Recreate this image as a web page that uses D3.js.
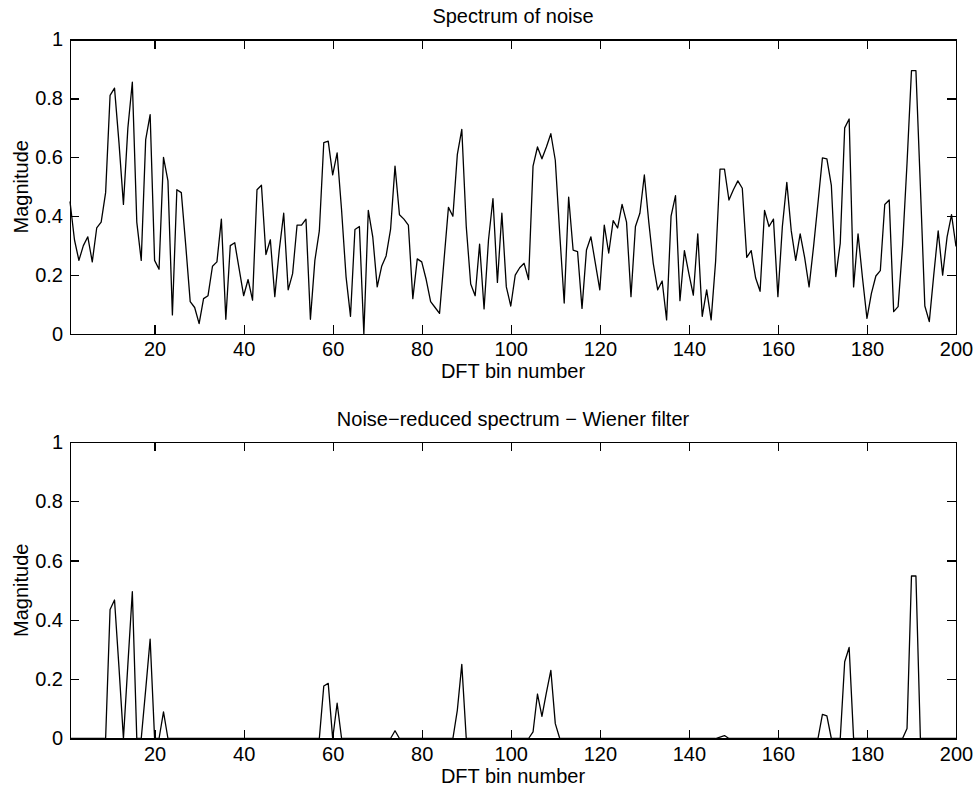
<!DOCTYPE html>
<html lang="en">

<head>
    <meta charset="UTF-8">
    <title>Spectrum of noise</title>
    <style>
        body {
            margin: 0;
            background: #fff;
        }

        svg text {
            font-family: 'Liberation Sans', Arial, sans-serif;
            font-size: 20px;
            fill: #000;
        }

        .axis path,
        .axis line {
            stroke: #000;
            stroke-width: 1.2px;
            shape-rendering: crispEdges;
        }

        .trace {
            fill: none;
            stroke: #000;
            stroke-width: 1.3px;
            stroke-linejoin: round;
        }
    </style>
</head>

<body>
    <script src="https://cdn.jsdelivr.net/npm/d3@7"></script>
    <script>
        // DFT bin numbers
        const bins = d3.range(1, 201);

        // magnitude of the noise spectrum, bins 1..200
        const noiseMag = [
            0.45, 0.32, 0.25, 0.30, 0.33, 0.245, 0.36, 0.38, 0.48, 0.81,
            0.835, 0.65, 0.44, 0.70, 0.855, 0.38, 0.25, 0.66, 0.745, 0.25,
            0.22, 0.60, 0.52, 0.065, 0.49, 0.48, 0.30, 0.11, 0.09, 0.035,
            0.12, 0.13, 0.23, 0.245, 0.39, 0.05, 0.30, 0.31, 0.22, 0.13,
            0.185, 0.115, 0.49, 0.505, 0.27, 0.32, 0.127, 0.285, 0.41, 0.15,
            0.205, 0.37, 0.37, 0.39, 0.05, 0.25, 0.35, 0.65, 0.655, 0.54,
            0.615, 0.42, 0.195, 0.06, 0.355, 0.365, 0.0, 0.42, 0.33, 0.16,
            0.23, 0.265, 0.355, 0.57, 0.405, 0.39, 0.37, 0.12, 0.255, 0.245,
            0.185, 0.11, 0.09, 0.07, 0.25, 0.43, 0.40, 0.61, 0.695, 0.365,
            0.17, 0.13, 0.305, 0.085, 0.32, 0.46, 0.175, 0.41, 0.16, 0.095,
            0.20, 0.225, 0.24, 0.185, 0.57, 0.635, 0.595, 0.635, 0.68, 0.59,
            0.34, 0.105, 0.465, 0.285, 0.28, 0.087, 0.285, 0.33, 0.24, 0.15,
            0.37, 0.275, 0.385, 0.36, 0.44, 0.38, 0.127, 0.365, 0.41, 0.54,
            0.38, 0.24, 0.15, 0.18, 0.048, 0.40, 0.47, 0.113, 0.283, 0.205,
            0.132, 0.34, 0.06, 0.15, 0.048, 0.245, 0.56, 0.56, 0.455, 0.49,
            0.52, 0.495, 0.26, 0.283, 0.19, 0.145, 0.42, 0.365, 0.39, 0.127,
            0.365, 0.515, 0.35, 0.25, 0.34, 0.26, 0.16, 0.296, 0.445, 0.598,
            0.595, 0.505, 0.195, 0.308, 0.70, 0.73, 0.16, 0.34, 0.19, 0.053,
            0.138, 0.197, 0.215, 0.44, 0.455, 0.076, 0.093, 0.30, 0.58, 0.894,
            0.894, 0.50, 0.095, 0.042, 0.20, 0.35, 0.20, 0.33, 0.405, 0.297
        ];

        // magnitude after the Wiener filter, bins 1..200
        const wienerMag = [
            0, 0, 0, 0, 0, 0, 0, 0, 0, 0.435,
            0.467, 0.24, 0, 0.25, 0.495, 0, 0, 0.165, 0.335, 0,
            0, 0.09, 0, 0, 0, 0, 0, 0, 0, 0,
            0, 0, 0, 0, 0, 0, 0, 0, 0, 0,
            0, 0, 0, 0, 0, 0, 0, 0, 0, 0,
            0, 0, 0, 0, 0, 0, 0, 0.177, 0.186, 0,
            0.119, 0, 0, 0, 0, 0, 0, 0, 0, 0,
            0, 0, 0, 0.026, 0, 0, 0, 0, 0, 0,
            0, 0, 0, 0, 0, 0, 0, 0.096, 0.25, 0,
            0, 0, 0, 0, 0, 0, 0, 0, 0, 0,
            0, 0, 0, 0, 0.022, 0.15, 0.075, 0.155, 0.23, 0.05,
            0, 0, 0, 0, 0, 0, 0, 0, 0, 0,
            0, 0, 0, 0, 0, 0, 0, 0, 0, 0,
            0, 0, 0, 0, 0, 0, 0, 0, 0, 0,
            0, 0, 0, 0, 0, 0, 0.005, 0.01, 0, 0,
            0, 0, 0, 0, 0, 0, 0, 0, 0, 0,
            0, 0, 0, 0, 0, 0, 0, 0, 0, 0.081,
            0.076, 0, 0, 0, 0.259, 0.307, 0, 0, 0, 0,
            0, 0, 0, 0, 0, 0, 0, 0, 0.034, 0.548,
            0.548, 0, 0, 0, 0, 0, 0, 0, 0, 0
        ];

        const xTicks = [20, 40, 60, 80, 100, 120, 140, 160, 180, 200];
        const yTicks = [0, 0.2, 0.4, 0.6, 0.8, 1];
        const titles = ['Spectrum of noise', 'Noise\u2212reduced spectrum \u2212 Wiener filter'];
        const xLabel = 'DFT bin number';
        const yLabel = 'Magnitude';

        const width = 976;
        const height = 789;
        const left = 70;
        const right = 956;
        const tick = 9;
        const panels = [
            { top: 39.5, bottom: 334, title: titles[0], values: noiseMag },
            { top: 442, bottom: 738.5, title: titles[1], values: wienerMag }
        ];

        const xScale = d3.scaleLinear()
            .domain([1, 200])
            .range([left, right]);

        const svg = d3.select('body')
            .append('svg')
            .attr('width', width)
            .attr('height', height);

        panels.forEach(p => {
            const yScale = d3.scaleLinear()
                .domain([0, 1])
                .range([p.bottom, p.top]);
            const fmt = d => d3.format('~g')(d);

            svg.append('g')
                .attr('class', 'axis')
                .attr('transform', `translate(0, ${p.bottom})`)
                .call(d3.axisBottom(xScale)
                    .tickValues(xTicks)
                    .tickSizeInner(-tick)
                    .tickSizeOuter(0)
                    .tickPadding(8));

            svg.append('g')
                .attr('class', 'axis')
                .attr('transform', `translate(0, ${p.top})`)
                .call(d3.axisTop(xScale)
                    .tickValues(xTicks)
                    .tickSizeInner(-tick)
                    .tickSizeOuter(0)
                    .tickFormat(''));

            svg.append('g')
                .attr('class', 'axis')
                .attr('transform', `translate(${left}, 0)`)
                .call(d3.axisLeft(yScale)
                    .tickValues(yTicks)
                    .tickSizeInner(-tick)
                    .tickSizeOuter(0)
                    .tickPadding(7)
                    .tickFormat(fmt));

            svg.append('g')
                .attr('class', 'axis')
                .attr('transform', `translate(${right}, 0)`)
                .call(d3.axisRight(yScale)
                    .tickValues(yTicks)
                    .tickSizeInner(-tick)
                    .tickSizeOuter(0)
                    .tickFormat(''));

            svg.selectAll('.axis text')
                .attr('font-family', null)
                .attr('font-size', null);

            svg.append('path')
                .datum(bins)
                .attr('class', 'trace')
                .attr('d', d3.line()
                    .x(b => xScale(b))
                    .y((b, i) => yScale(p.values[i])));

            svg.append('text')
                .attr('x', (left + right) / 2)
                .attr('y', p.top - 16.5)
                .attr('text-anchor', 'middle')
                .text(p.title);

            svg.append('text')
                .attr('x', (left + right) / 2)
                .attr('y', p.bottom + 44)
                .attr('text-anchor', 'middle')
                .text(xLabel);

            svg.append('text')
                .attr('transform', `translate(28, ${(p.top + p.bottom) / 2}) rotate(-90)`)
                .attr('text-anchor', 'middle')
                .text(yLabel);
        });
    </script>
</body>

</html>
